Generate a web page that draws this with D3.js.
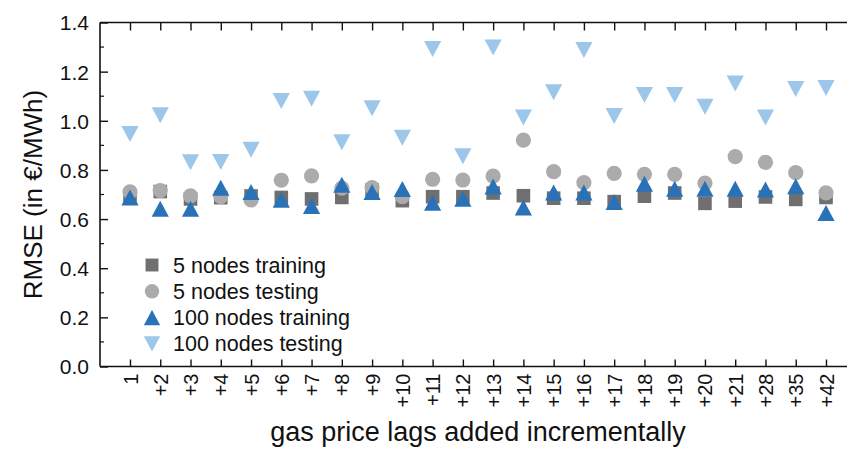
<!DOCTYPE html>
<html>
<head>
<meta charset="utf-8">
<script src="https://cdn.jsdelivr.net/npm/d3@7"></script>
<style>
  html, body { margin: 0; padding: 0; background: #fff; }
  svg text { font-family: "Liberation Sans", Arial, sans-serif; fill: #111; }
</style>
</head>
<body>
<svg id="chart" width="847" height="450"></svg>
<script>
const categories = ["1","+2","+3","+4","+5","+6","+7","+8","+9","+10","+11","+12","+13","+14","+15","+16","+17","+18","+19","+20","+21","+28","+35","+42"];
const train5  = [0.695,0.712,0.682,0.687,0.694,0.688,0.682,0.688,0.718,0.675,0.691,0.691,0.706,0.695,0.685,0.685,0.671,0.693,0.706,0.664,0.673,0.690,0.680,0.688];
const test5   = [0.711,0.716,0.694,0.691,0.678,0.758,0.776,0.726,0.728,0.691,0.762,0.759,0.775,0.921,0.793,0.748,0.786,0.782,0.782,0.746,0.854,0.831,0.789,0.707];
const train100 = [0.688,0.642,0.642,0.727,0.710,0.679,0.653,0.740,0.710,0.722,0.666,0.683,0.733,0.647,0.708,0.708,0.669,0.744,0.723,0.723,0.723,0.720,0.734,0.625];
const test100  = [0.946,1.023,0.831,0.832,0.882,1.081,1.090,0.913,1.051,0.931,1.292,0.856,1.298,1.013,1.116,1.288,1.019,1.105,1.105,1.057,1.152,1.013,1.129,1.133];
const seriesNames = ["5 nodes training","5 nodes testing","100 nodes training","100 nodes testing"];
const yTicks = [0.0,0.2,0.4,0.6,0.8,1.0,1.2,1.4];
const yTitle = "RMSE (in €/MWh)";
const xTitle = "gas price lags added incrementally";

const colors = ["#6f6f6f","#ababab","#2a72b8","#9cc7eb"];
const shapes = ["square","circle","up","down"];

const svg = d3.select("#chart");
const pLeft = 100, pRight = 849, pTop = 22.5, pBottom = 366.5;

const x = d3.scalePoint().domain(categories).range([130, 826]);
const y = d3.scaleLinear().domain([0, 1.4]).range([pBottom, pTop]);

function markerPath(shape) {
  if (shape === "square") { const s = 6.8; return `M${-s},${-s}H${s}V${s}H${-s}Z`; }
  if (shape === "circle") { const r = 7.6; return `M${r},0A${r},${r} 0 1,1 ${-r},0A${r},${r} 0 1,1 ${r},0Z`; }
  const w = 8.6, h = 8.0;
  if (shape === "up") return `M0,${-h}L${w},${h}L${-w},${h}Z`;
  return `M0,${h}L${w},${-h}L${-w},${-h}Z`;
}

// frame lines
svg.append("line").attr("x1", pLeft).attr("x2", pRight).attr("y1", pTop).attr("y2", pTop).attr("stroke", "#111").attr("stroke-width", 1.6);
svg.append("line").attr("x1", pLeft).attr("x2", pRight).attr("y1", pBottom).attr("y2", pBottom).attr("stroke", "#111").attr("stroke-width", 1.6);
svg.append("line").attr("x1", pLeft).attr("x2", pLeft).attr("y1", pTop).attr("y2", pBottom).attr("stroke", "#111").attr("stroke-width", 1.6);

// left axis
const yAxis = d3.axisLeft(y).tickValues(yTicks).tickFormat(d3.format(".1f")).tickSize(-8).tickPadding(11);
const gy = svg.append("g").attr("transform", `translate(${pLeft},0)`).call(yAxis);
gy.select(".domain").remove();
gy.selectAll(".tick line").attr("stroke", "#111").attr("stroke-width", 1.4);
gy.selectAll(".tick text").style("font-size", "21px").attr("dy", "0.35em");
// minor ticks
const minor = d3.range(0.1, 1.4, 0.2);
svg.append("g").selectAll("line").data(minor).join("line")
  .attr("x1", pLeft).attr("x2", pLeft + 4).attr("y1", d => y(d)).attr("y2", d => y(d))
  .attr("stroke", "#111").attr("stroke-width", 1.2);

// bottom axis
const xAxis = d3.axisBottom(x).tickSize(-7).tickPadding(0);
const gx = svg.append("g").attr("transform", `translate(0,${pBottom})`).call(xAxis);
gx.select(".domain").remove();
gx.selectAll(".tick line").attr("stroke", "#111").attr("stroke-width", 1.4);
gx.selectAll(".tick text")
  .style("font-size", "20px")
  .attr("text-anchor", "end")
  .attr("transform", "rotate(-90)")
  .attr("x", -7).attr("y", 0).attr("dy", "0.35em");

// top ticks
const gt = svg.append("g").attr("transform", `translate(0,${pTop})`).call(d3.axisTop(x).tickSize(-8).tickFormat(""));
gt.select(".domain").remove();
gt.selectAll(".tick line").attr("stroke", "#111").attr("stroke-width", 1.4);

// titles
svg.append("text").attr("transform", `translate(33,${(pTop + pBottom) / 2}) rotate(-90)`)
  .attr("text-anchor", "middle").attr("dy", "0.35em").style("font-size", "26px").text(yTitle);
svg.append("text").attr("x", 478).attr("y", 441).attr("text-anchor", "middle")
  .style("font-size", "27px").text(xTitle);

// data
const allSeries = [train5, test5, train100, test100];
allSeries.forEach((vals, si) => {
  svg.append("g").selectAll("path").data(vals).join("path")
    .attr("d", markerPath(shapes[si]))
    .attr("transform", (d, i) => `translate(${x(categories[i])},${y(d)})`)
    .attr("fill", colors[si]);
});

// legend
const lg = svg.append("g");
seriesNames.forEach((name, i) => {
  const ly = 265 + i * 26.3;
  lg.append("path").attr("d", markerPath(shapes[i])).attr("transform", `translate(152,${ly}) scale(0.95)`).attr("fill", colors[i]);
  lg.append("text").attr("x", 173).attr("y", ly).attr("dy", "0.35em").style("font-size", "21.5px").text(name);
});
</script>
</body>
</html>
